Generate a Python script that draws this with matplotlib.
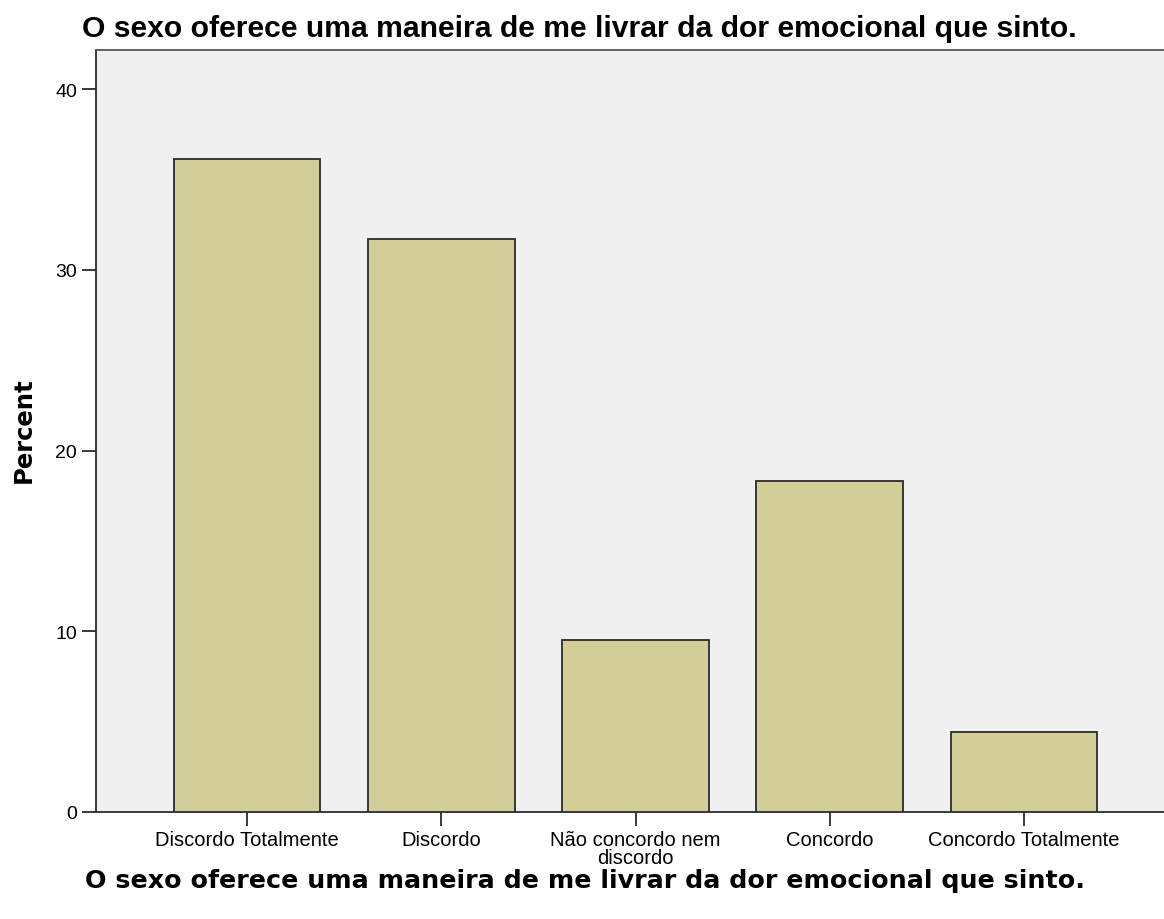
import matplotlib
matplotlib.use("Agg")
import matplotlib.pyplot as plt

categories = ["Discordo Totalmente", "Discordo", "Não concordo nem\ndiscordo",
              "Concordo", "Concordo Totalmente"]
percent = [36.1, 31.7, 9.5, 18.3, 4.4]
yticks = [0, 10, 20, 30, 40]
title = "O sexo oferece uma maneira de me livrar da dor emocional que sinto."

fig = plt.figure(figsize=(11.64, 9.2), dpi=100)
ax = fig.add_axes([96/1164, 1-813/920, (1175-96)/1164, (813-51)/920])
ax.set_facecolor("#F0F0F0")
x = range(len(categories))
ax.bar(x, percent, width=0.755, color="#D3CE97", edgecolor="#2b2b2b", linewidth=1.3, zorder=3)
ax.set_xlim(-0.777, 4.777)
ax.set_ylim(0, 40 * (813-51) / (813-90))
ax.set_yticks(yticks)
ax.set_yticklabels([str(t) for t in yticks], fontsize=14, family="Liberation Sans")
ax.set_xticks(list(x))
ax.set_xticklabels(categories, fontsize=14.5, family="Liberation Sans", linespacing=0.95)
ax.tick_params(axis="both", length=10, width=1.3, color="#2b2b2b", pad=3.5)
ax.tick_params(axis="x", pad=3)
for s in ["left", "bottom", "top"]:
    ax.spines[s].set_linewidth(1.3)
    ax.spines[s].set_color("#2b2b2b")
ax.spines["top"].set_color("#555555")
ax.spines["right"].set_visible(False)

fig.text(24/1164, 1-430/920, "Percent", fontsize=17.5, fontweight="bold", family="DejaVu Sans",
         rotation=90, ha="center", va="center")
fig.text(82/1164, 1-29/920, title, fontsize=21.7, fontweight="bold", family="Liberation Sans",
         ha="left", va="center")
fig.text(585/1164, 1-881/920, title, fontsize=18.3, fontweight="bold", family="DejaVu Sans",
         ha="center", va="center")

fig.savefig("out.png", dpi=100)
